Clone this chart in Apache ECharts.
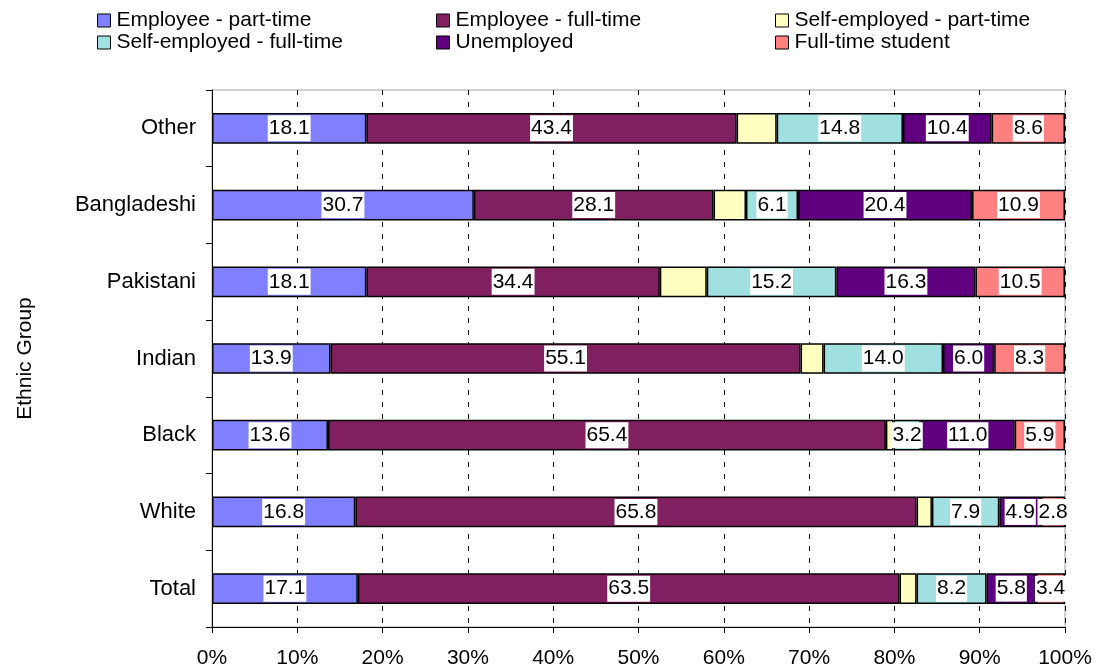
<!DOCTYPE html>
<html>
<head>
<meta charset="utf-8">
<script src="https://cdn.jsdelivr.net/npm/echarts@6/dist/echarts.min.js"></script>
<style>html,body{margin:0;padding:0;background:#fff}#c{width:1099px;height:671px}</style>
</head>
<body>
<div id="c"></div>
<script>
const categories = ['Total', 'White', 'Black', 'Indian', 'Pakistani', 'Bangladeshi', 'Other'];
const seriesNames = ['Employee - part-time', 'Employee - full-time', 'Self-employed - part-time', 'Self-employed - full-time', 'Unemployed', 'Full-time student'];
const employeePartTime = [17.1, 16.8, 13.6, 13.9, 18.1, 30.7, 18.1];
const employeeFullTime = [63.5, 65.8, 65.4, 55.1, 34.4, 28.1, 43.4];
const selfEmployedPartTime = [2.0, 1.8, 0.9, 2.7, 5.5, 3.8, 4.7];
const selfEmployedFullTime = [8.2, 7.9, 3.2, 14.0, 15.2, 6.1, 14.8];
const unemployed = [5.8, 4.9, 11.0, 6.0, 16.3, 20.4, 10.4];
const fullTimeStudent = [3.4, 2.8, 5.9, 8.3, 10.5, 10.9, 8.6];
const xTicks = [0, 10, 20, 30, 40, 50, 60, 70, 80, 90, 100];

const seriesData = [employeePartTime, employeeFullTime, selfEmployedPartTime, selfEmployedFullTime, unemployed, fullTimeStudent];
const colors = ['#8080FF', '#802060', '#FFFFC0', '#A0E0E0', '#600080', '#FF8080'];
const showLabel = [true, true, false, true, true, true];
const FONT = 'Liberation Sans, Arial, sans-serif';

const chart = echarts.init(document.getElementById('c'));

const legendPos = [
  {left: 97, top: 10}, {left: 436, top: 10}, {left: 775, top: 10},
  {left: 97, top: 32}, {left: 436, top: 32}, {left: 775, top: 32}
];
const legends = seriesNames.map((n, i) => ({
  data: [n], left: legendPos[i].left, top: legendPos[i].top,
  itemWidth: 13, itemHeight: 13, itemGap: 4, padding: 0,
  icon: 'rect',
  itemStyle: {borderColor: '#000', borderWidth: 1},
  textStyle: {fontFamily: FONT, fontSize: 21, color: '#000', padding: [0, 0, 0, 1]},
  selectedMode: false
}));

chart.setOption({
  animation: false,
  color: colors,
  legend: legends,
  grid: {left: 212, right: 34, top: 90, bottom: 44, show: true, borderColor: '#a0a0a0', borderWidth: 1},
  xAxis: {
    type: 'value', min: 0, max: 100, interval: 10,
    axisLine: {show: true, lineStyle: {color: '#000', width: 1}},
    axisTick: {show: true, length: 6, lineStyle: {color: '#000'}},
    axisLabel: {formatter: v => xTicks.includes(v) ? v + '%' : '', fontFamily: FONT, fontSize: 21, color: '#000', margin: 21},
    splitLine: {show: true, lineStyle: {color: '#000', type: [5, 7], width: 1}}
  },
  yAxis: {
    type: 'category', data: categories,
    name: 'Ethnic Group', nameLocation: 'middle', nameGap: 176, nameRotate: 90,
    nameTextStyle: {fontFamily: FONT, fontSize: 21, color: '#000'},
    axisLine: {show: true, lineStyle: {color: '#000', width: 1}},
    axisTick: {show: true, length: 6, lineStyle: {color: '#000'}},
    axisLabel: {fontFamily: FONT, fontSize: 22, color: '#000', margin: 16}
  },
  series: seriesNames.map((n, i) => ({
    name: n, type: 'bar', stack: 'total',
    data: seriesData[i],
    barCategoryGap: '60%',
    itemStyle: {color: colors[i], borderColor: '#000', borderWidth: 1.5},
    label: {
      show: showLabel[i], position: 'inside',
      formatter: p => p.value.toFixed(1),
      fontFamily: FONT, fontSize: 21, color: '#000',
      backgroundColor: '#fff', padding: [3, 1, 2, 1]
    }
  }))
});
</script>
</body>
</html>
